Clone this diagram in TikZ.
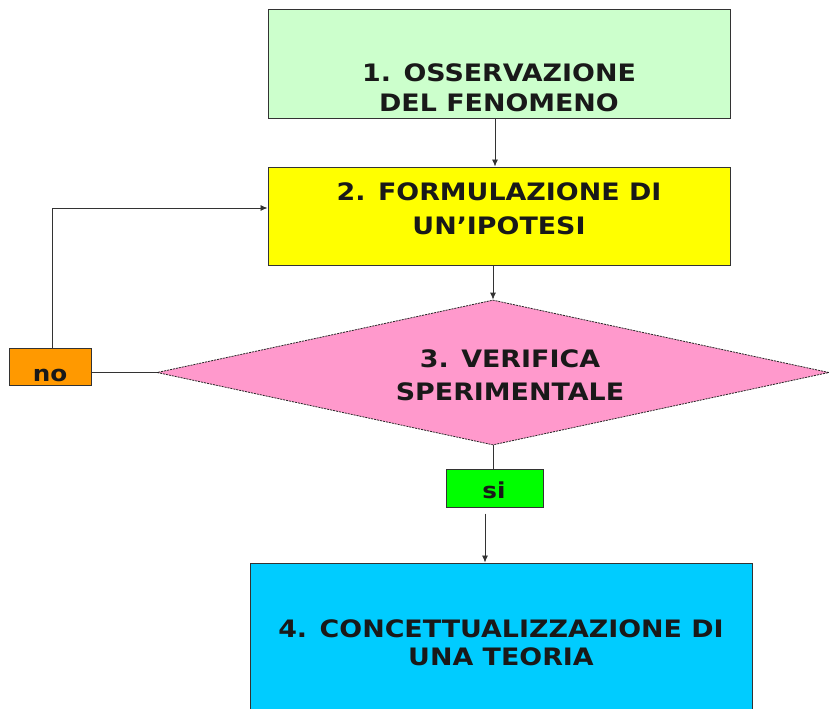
\documentclass[tikz,border=0pt]{standalone}
\usepackage{fontspec}
\setmainfont{DejaVu Sans}[FakeStretch=1.12]
\usetikzlibrary{arrows.meta,shapes.geometric}
\definecolor{cone}{HTML}{CCFFCC}
\definecolor{ctwo}{HTML}{FFFF00}
\definecolor{cthree}{HTML}{FF99CC}
\definecolor{cno}{HTML}{FF9900}
\definecolor{csi}{HTML}{00FF00}
\definecolor{cfour}{HTML}{00CCFF}
\definecolor{edge}{HTML}{333333}
\begin{document}
\begin{tikzpicture}[x=1pt,y=-1pt,
  box/.style={rectangle,draw=edge,line width=1pt,inner sep=0pt},
  lbl/.style={font=\bfseries\fontsize{24}{30}\selectfont,align=center,inner sep=0pt,text=black!90},
  small/.style={font=\bfseries\fontsize{22}{26}\selectfont,inner sep=0pt,text=black!90},
  conn/.style={draw=edge,line width=0.8pt},
  arr/.style={conn,-{Latex[length=7pt,width=6pt]}}]
\clip (0,0) rectangle (830,709);
\fill[white] (0,0) rectangle (830,709);
% shapes
\node[box,fill=cone,minimum width=462pt,minimum height=108pt] (b1) at (499,64) {};
\node[box,fill=ctwo,minimum width=462pt,minimum height=98pt] (b2) at (499,216) {};
\node[diamond,draw=black!85,fill=cthree,dash pattern=on 2pt off 1pt,line width=0.8pt,
      inner sep=0pt,aspect=4.6,minimum width=672pt,minimum height=145pt] (d) at (493,372.5) {};
\node[box,fill=cno,minimum width=82pt,minimum height=37pt] (no) at (50,366.5) {};
\node[box,fill=csi,minimum width=97pt,minimum height=38pt] (si) at (494.5,488) {};
\node[box,fill=cfour,minimum width=502pt,minimum height=154pt] (b4) at (501,640) {};
% texts
\node[lbl] (t1) at (499,88) {1. OSSERVAZIONE\\DEL FENOMENO};
\node[lbl,font=\bfseries\fontsize{24}{34}\selectfont] (t2) at (499,209) {2. FORMULAZIONE DI\\UN’IPOTESI};
\node[lbl,font=\bfseries\fontsize{24}{33}\selectfont] (t3) at (510,375.5) {3. VERIFICA\\SPERIMENTALE};
\node[lbl,font=\bfseries\fontsize{24}{28}\selectfont] (t4) at (501,643) {4. CONCETTUALIZZAZIONE DI\\UNA TEORIA};
\node[small,anchor=base] (tno) at (50,381) {no};
\node[small,anchor=base] (tsi) at (494,498) {si};
% connectors
\coordinate (loopc) at (52,208);
\draw[arr] (b1.south -| 495,0) -- (b2.north -| 495,0);
\draw[arr] (b2.south -| d.north) -- (d.north);
\draw[conn] (d.west) -- (d.west -| no.east);
\draw[arr] (no.north -| loopc) -- (loopc) -- (loopc -| b2.west);
\draw[conn] (d.south) -- (si.north -| d.south);
\draw[arr,shorten <=6pt] (si.south -| 485,0) -- (b4.north -| 485,0);
\end{tikzpicture}
\end{document}
